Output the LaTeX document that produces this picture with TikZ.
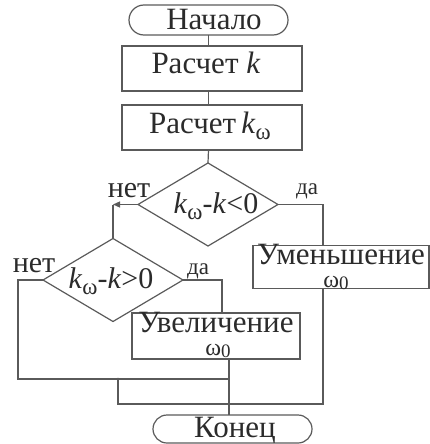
\documentclass[tikz,border=0pt]{standalone}
\usepackage{fontspec}
\setmainfont{Liberation Serif}
\usetikzlibrary{shapes.geometric,shapes.misc,arrows.meta}
\definecolor{ln}{HTML}{5a5a5a}
\definecolor{tx}{HTML}{2b2b2b}
\newcommand{\kom}{\textit{k}\raisebox{-0.2em}{\fontsize{23}{23}\selectfont ω}}
\newcommand{\omz}{{\fontsize{24}{24}\selectfont ω}\raisebox{-0.2em}{\fontsize{19}{19}\selectfont 0}}
\begin{document}
\begin{tikzpicture}[x=1pt,y=-1pt,
  line width=1.2pt, draw=ln,
  every node/.style={text=tx, inner sep=0pt, outer sep=0pt},
  term/.style={draw=ln, rounded rectangle, minimum width=159pt, minimum height=30pt},
  blk/.style={draw=ln, rectangle},
  dia/.style={draw=ln, diamond, minimum width=140pt, minimum height=83pt},
  big/.style={font=\fontsize{31}{31}\selectfont, anchor=base},
  lab/.style={font=\fontsize{30}{30}\selectfont, anchor=base},
  small/.style={font=\fontsize{23}{23}\selectfont, anchor=base},
  dot/.style={circle, fill=ln, minimum size=3pt}]
\useasboundingbox (0,0) rectangle (430,444);
% terminators
\node[term] (start) at (208.5,20) {};
\node[big] (starttx) at (214,29.5) {Начало};
\node[term, minimum height=28pt] (stop) at (232.5,429) {};
\node[big] (stoptx) at (235,437) {Конец};
% process boxes
\node[blk, minimum width=180pt, minimum height=45pt] (b1) at (212,68.5) {};
\node[big] (b1tx) at (206,74) {Расчет \textit{k}};
\node[blk, minimum width=180pt, minimum height=45pt] (b2) at (212,127.5) {};
\node[big] (b2tx) at (210,133) {Расчет\,\kom};
% decisions
\node[dia] (d1) at (208,204.5) {};
\node[lab] (d1tx) at (216,213) {\kom-\textit{k}<0};
\node[dia] (d2) at (113,280) {};
\node[lab] (d2tx) at (111,288) {\kom-\textit{k}>0};
% action boxes
\node[blk, minimum width=176pt, minimum height=43pt] (u) at (341,267) {};
\node[big] (utx) at (341,264) {Уменьшение};
\node[anchor=base] (uw) at (336,287.5) {\omz};
\node[blk, minimum width=168pt, minimum height=46pt] (v) at (216,336) {};
\node[big] (vtx) at (216,332) {Увеличение};
\node[anchor=base] (vw) at (218,355.5) {\omz};
% labels
\node[lab] (no1) at (129,197) {нет};
\node[small] (yes1) at (307,194) {да};
\node[lab] (no2) at (34,272) {нет};
\node[small] (yes2) at (198,274) {да};
% coordinates
\coordinate (c1) at (323,204.5);
\coordinate (c2) at (18,280);
\coordinate (c3) at (222,280);
\coordinate (j1) at (229,379);
\coordinate (j2) at (229,404);
\coordinate (j3) at (118,379);
\coordinate (j4) at (118,404);
\coordinate (j5) at (323,404);
% connectors
\draw (start.south) -- (start.south |- b1.north);
\draw (start.south |- b1.south) -- (start.south |- b2.north);
\draw (start.south |- b2.south) -- (d1.north);
\draw[-{Triangle[length=7pt,width=6pt]}] (d1.west) -- (d1.west -| d2.north);
\draw (d1.west -| d2.north) -- (d2.north);
\draw (d1.east) -- (c1) -- (c1 |- u.north);
\draw (d2.east) -- (c3) -- (c3 |- v.north);
\draw (d2.west) -- (c2) -- (c2 |- j1) -- (j1);
\draw (v.south -| j1) -- (stop.north -| j1);
\draw (j3) -- (j4) -- (j5) -- (u.south -| j5);
\node[dot] (dt1) at (j3) {};
\node[dot] (dt2) at (j2) {};
\end{tikzpicture}
\end{document}
